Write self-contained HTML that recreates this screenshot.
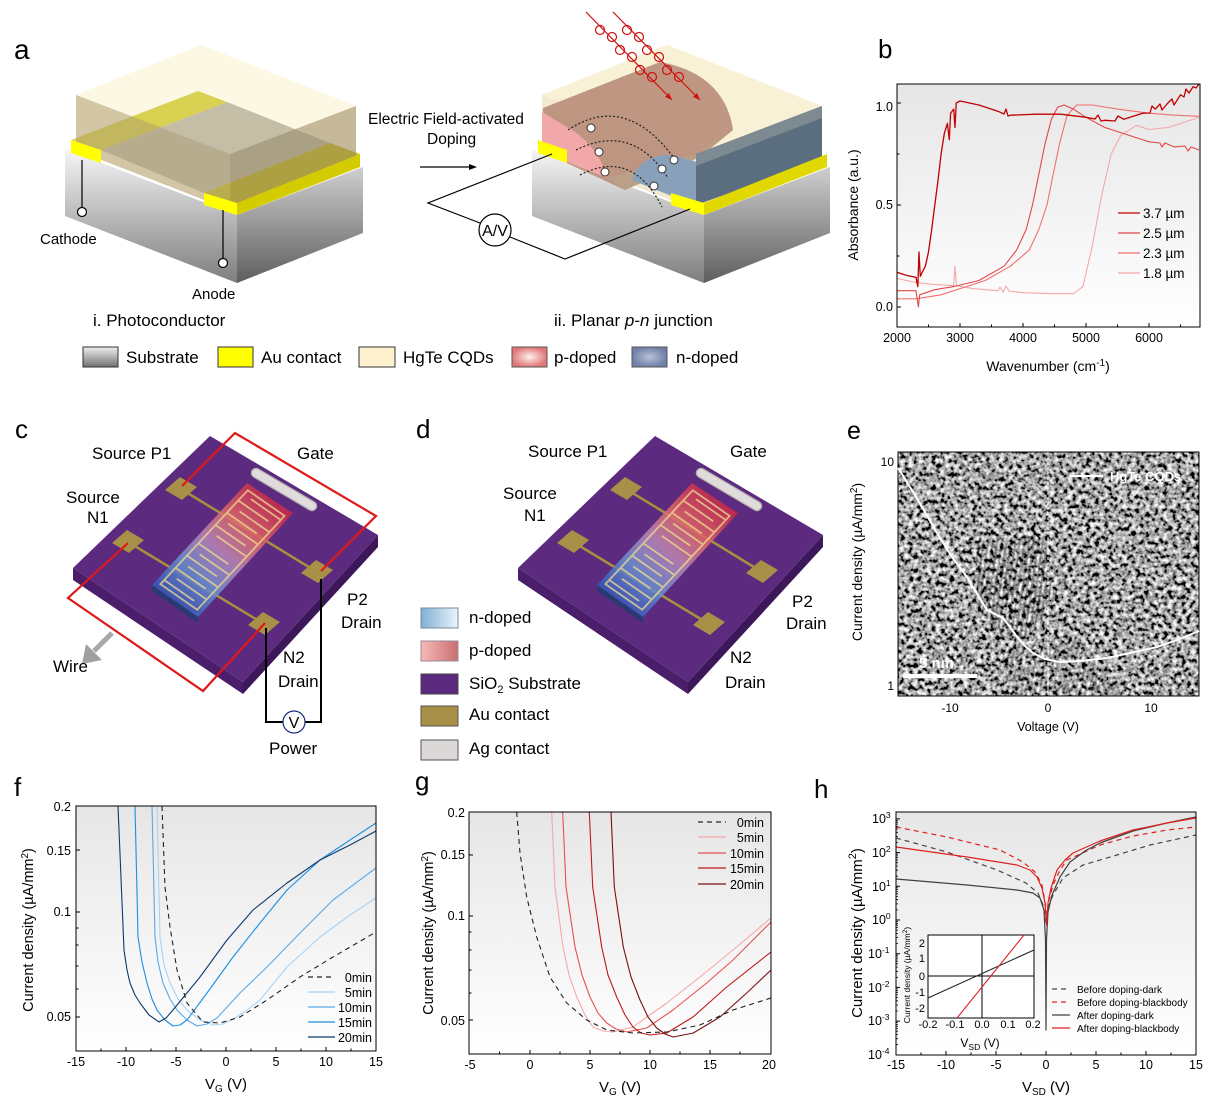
<!DOCTYPE html>
<html><head><meta charset="utf-8"><style>
html,body{margin:0;padding:0;background:#fff}
svg{display:block}
text{font-family:"Liberation Sans",Arial,sans-serif;fill:#000}
</style></head><body>
<svg width="1226" height="1117" viewBox="0 0 1226 1117" xmlns="http://www.w3.org/2000/svg">
<defs>
<linearGradient id="bgp" x1="0" y1="0" x2="0" y2="1"><stop offset="0" stop-color="#e6e6e6"/><stop offset="1" stop-color="#ffffff"/></linearGradient>
<linearGradient id="subL" x1="0" y1="0" x2="0" y2="1"><stop offset="0" stop-color="#f6f6f6"/><stop offset="1" stop-color="#7e7e7e"/></linearGradient>
<linearGradient id="subR" x1="0" y1="0" x2="0" y2="1"><stop offset="0" stop-color="#cfcfcf"/><stop offset="1" stop-color="#5e5e5e"/></linearGradient>
<linearGradient id="subLeg" x1="0" y1="0" x2="0" y2="1"><stop offset="0" stop-color="#f0f0f0"/><stop offset="1" stop-color="#707070"/></linearGradient>
<radialGradient id="pLeg"><stop offset="0" stop-color="#fff0f0"/><stop offset="1" stop-color="#e07878"/></radialGradient>
<radialGradient id="nLeg"><stop offset="0" stop-color="#b8c4d8"/><stop offset="1" stop-color="#7080a8"/></radialGradient>
<linearGradient id="nd" x1="0" y1="0" x2="1" y2="0"><stop offset="0" stop-color="#80b0d4"/><stop offset="1" stop-color="#eaf4fa"/></linearGradient>
<linearGradient id="pd" x1="0" y1="0" x2="1" y2="0"><stop offset="0" stop-color="#f8b8b8"/><stop offset="1" stop-color="#c87070"/></linearGradient>
<linearGradient id="chipG" gradientUnits="userSpaceOnUse" x1="272" y1="495" x2="172" y2="602"><stop offset="0" stop-color="#c82848"/><stop offset="0.3" stop-color="#e06a6a"/><stop offset="0.52" stop-color="#b888b8"/><stop offset="0.75" stop-color="#6a90d0"/><stop offset="1" stop-color="#3458b8"/></linearGradient>
<filter id="tem" x="0" y="0" width="100%" height="100%">
<feTurbulence type="fractalNoise" baseFrequency="0.22" numOctaves="2" seed="7"/>
<feColorMatrix type="matrix" values="2.3 0 0 0 -0.78  2.3 0 0 0 -0.78  2.3 0 0 0 -0.78  0 0 0 0 1"/>
</filter>
<pattern id="fringe" width="4.5" height="10" patternUnits="userSpaceOnUse" patternTransform="rotate(8)">
<rect width="2" height="10" fill="#000" opacity="0.45"/>
</pattern>
<g id="dev">
<polygon points="73,568 243,682 243,694 73,580" fill="#4a1e6a"/>
<polygon points="243,682 378,535 378,547 243,694" fill="#3c175a"/>
<polygon points="210,436 378,535 243,682 73,568" fill="#5c2a7e"/>
<line x1="181" y1="489" x2="317" y2="572" stroke="#a89040" stroke-width="2.5"/>
<line x1="128" y1="542" x2="264" y2="624" stroke="#a89040" stroke-width="2.5"/>
<line x1="256" y1="473" x2="312" y2="506" stroke="#b4acac" stroke-width="10.5" stroke-linecap="round"/>
<line x1="256" y1="473" x2="312" y2="506" stroke="#e0dcdc" stroke-width="8" stroke-linecap="round"/>
<polygon points="152,585 198,617 198,623 152,591" fill="#2a3a70"/>
<polygon points="152,585 247,483 293,513 198,617" fill="url(#chipG)" opacity="0.85"/>
<g transform="matrix(95,-102,46,32,152,585)" fill="none" stroke="#f0dc90" stroke-opacity="0.75" stroke-width="1.8">
<path vector-effect="non-scaling-stroke" d="M0.04,0.1 H0.96 V0.9 H0.04 Z M0.08,0.1 V0.75 M0.14,0.25 V0.9 M0.2,0.1 V0.75 M0.26,0.25 V0.9 M0.32,0.1 V0.75 M0.38,0.25 V0.9 M0.44,0.1 V0.75 M0.56,0.25 V0.9 M0.62,0.1 V0.75 M0.68,0.25 V0.9 M0.74,0.1 V0.75 M0.8,0.25 V0.9 M0.86,0.1 V0.75 M0.92,0.25 V0.9"/>
</g>
<polygon points="165,490 180,477 197,487 182,500" fill="#a89048"/>
<polygon points="112,543 127,530 144,540 129,553" fill="#a89048"/>
<polygon points="301,573 316,560 333,570 318,583" fill="#a89048"/>
<polygon points="248,625 263,612 280,622 265,635" fill="#a89048"/>
</g>
</defs>

<!-- ============ PANEL A ============ -->
<text x="14" y="59" font-size="28">a</text>
<polygon points="65,149 237,215 237,283 65,216" fill="url(#subL)"/>
<polygon points="237,215 363,167 363,233 237,283" fill="url(#subR)"/>
<polygon points="76,95 201,45 356,106 356,160 230,210 76,150" fill="#f4ecd0"/>
<polygon points="76,95 201,45 356,106 230,154" fill="#fcf8e4"/>
<polygon points="101,150 227,102 330,143 204,193" fill="#c4bea6"/>
<polygon points="71,140 198,91 227,102 101,150" fill="#d4cc40" opacity="0.9"/>
<polygon points="204,193 330,143 360,154 237,203" fill="#c8be30"/>
<polygon points="76,95 230,154 230,210 76,150" fill="#a89870" opacity="0.45"/>
<polygon points="230,154 356,106 356,160 230,210" fill="#8c7c58" opacity="0.45"/>
<polygon points="71,140 101,150 101,163 71,153" fill="#ffff00"/>
<polygon points="204,193 237,203 237,215 204,205" fill="#ffff00"/>
<polygon points="237,203 360,154 360,167 237,215" fill="#d4cc00"/>
<line x1="82" y1="160" x2="82" y2="208" stroke="#000" stroke-width="1.2"/>
<circle cx="82" cy="212" r="4.5" fill="#fff" stroke="#000" stroke-width="1.2"/>
<line x1="223" y1="210" x2="223" y2="258" stroke="#000" stroke-width="1.2"/>
<circle cx="223" cy="263" r="4.5" fill="#fff" stroke="#000" stroke-width="1.2"/>
<text x="40" y="244" font-size="15">Cathode</text>
<text x="192" y="299" font-size="15">Anode</text>
<text x="93" y="326" font-size="17">i. Photoconductor</text>
<text x="368" y="124" font-size="15.5">Electric Field-activated</text>
<text x="427" y="144" font-size="15.5">Doping</text>
<line x1="420" y1="167" x2="472" y2="167" stroke="#000" stroke-width="1.2"/>
<polygon points="477,167 469,164 469,170" fill="#000"/>
<polygon points="532,149 704,215 704,283 532,216" fill="url(#subL)"/>
<polygon points="704,215 830,167 830,233 704,283" fill="url(#subR)"/>
<polygon points="542,95 667,45 822,106 822,160 696,210 542,150" fill="#f2ead0"/>
<polygon points="542,95 667,45 822,106 696,154" fill="#f8f1d6"/>
<path d="M543,108 L660,62 C705,70 728,95 733,130 L700,157 L625,190 L543,152 Z" fill="#b88c78" opacity="0.9"/>
<path d="M542,112 L567,127 C590,140 603,160 607,178 L542,152 Z" fill="#f2a8a8"/>
<path d="M607,178 L625,190 L700,157 L733,130 L697,154 Z" fill="#b8a888" opacity="0.6"/>
<path d="M632,180 C636,162 656,152 676,156 L697,162 L697,205 L664,193 Z" fill="#88a0ba"/>
<polygon points="696,154 822,106 822,160 696,205" fill="#5a6e80"/>
<polygon points="696,154 822,106 822,118 696,166" fill="#7d8a92"/>
<polygon points="538,140 567,150 567,163 538,153" fill="#ffff00"/>
<polygon points="671,193 704,203 704,215 671,205" fill="#ffff00"/>
<polygon points="704,203 827,154 827,167 704,215" fill="#e0d800"/>
<g fill="none" stroke="#222" stroke-width="1.2" stroke-dasharray="2,2">
<path d="M568,130 Q625,92 674,158"/>
<path d="M576,150 Q632,122 668,178"/>
<path d="M580,175 Q632,148 662,207"/>
</g>
<g fill="#fff" stroke="#333" stroke-width="1">
<circle cx="591" cy="128" r="4"/><circle cx="599" cy="152" r="4"/><circle cx="605" cy="172" r="4"/>
<circle cx="674" cy="160" r="4"/><circle cx="662" cy="169" r="4"/><circle cx="654" cy="186" r="4"/>
</g>
<g stroke="#d01010" stroke-width="1.2" fill="none">
<line x1="586" y1="12" x2="672" y2="100"/>
<line x1="613" y1="12" x2="700" y2="100"/>
<circle cx="600" cy="30" r="4.5"/><circle cx="612" cy="37" r="4.5"/><circle cx="620" cy="50" r="4.5"/><circle cx="632" cy="57" r="4.5"/><circle cx="640" cy="70" r="4.5"/><circle cx="652" cy="77" r="4.5"/>
<circle cx="627" cy="30" r="4.5"/><circle cx="639" cy="37" r="4.5"/><circle cx="647" cy="50" r="4.5"/><circle cx="659" cy="57" r="4.5"/><circle cx="667" cy="70" r="4.5"/><circle cx="679" cy="77" r="4.5"/>
</g>
<polygon points="672,100 665,97 669,93" fill="#d01010"/>
<polygon points="700,100 693,97 697,93" fill="#d01010"/>
<polyline points="552,154 428,203 480,223" fill="none" stroke="#000" stroke-width="1.2"/>
<polyline points="510,237 565,259 690,209" fill="none" stroke="#000" stroke-width="1.2"/>
<circle cx="495" cy="230" r="16" fill="none" stroke="#000" stroke-width="1.2"/>
<text x="495" y="236" font-size="16" text-anchor="middle">A/V</text>
<text x="554" y="326" font-size="17">ii. Planar <tspan font-style="italic">p</tspan>-<tspan font-style="italic">n</tspan> junction</text>
<rect x="83" y="347" width="35" height="20" fill="url(#subLeg)" stroke="#333" stroke-width="1"/>
<text x="126" y="363" font-size="17">Substrate</text>
<rect x="218" y="347" width="35" height="20" fill="#ffff00" stroke="#333" stroke-width="1"/>
<text x="261" y="363" font-size="17">Au contact</text>
<rect x="359" y="347" width="36" height="20" fill="#fdf0cc" stroke="#333" stroke-width="1"/>
<text x="403" y="363" font-size="17">HgTe  CQDs</text>
<rect x="512" y="347" width="35" height="20" fill="url(#pLeg)" stroke="#555" stroke-width="1"/>
<text x="554" y="363" font-size="17">p-doped</text>
<rect x="632" y="347" width="35" height="20" fill="url(#nLeg)" stroke="#555" stroke-width="1"/>
<text x="676" y="363" font-size="17">n-doped</text>

<!-- ============ PANEL B ============ -->
<text x="878" y="58" font-size="26">b</text>
<rect x="897" y="84" width="303" height="243" fill="url(#bgp)"/>
<g fill="none" stroke-width="1.1" stroke-linejoin="round">
<polyline stroke="#f5a8a8" points="897,278.4 916,282.5 934.8,284.6 953.7,285.6 955,266 956.5,285.6 972.6,288.6 997.8,290.7 1000,287 1003,292 1006,286 1009,291 1023,292.7 1054.5,293.7 1073.4,293.7 1082.9,286.6 1092.3,245.8 1101.8,194.8 1111.2,154 1120.7,135.6 1136.4,125.4 1149,129.5 1167.9,127.5 1186.8,121.4 1199,117.3"/>
<polyline stroke="#f07070" points="897,298.8 916,298.8 941.1,294.8 960,288.6 985.2,280.5 1010.4,266.2 1029.3,249.9 1038.8,229.5 1047,205 1053.2,174.4 1059.5,143.8 1067.1,115.2 1076.6,105 1092.3,105 1117.5,109.1 1149,113.2 1174.2,115.2 1199,116.3"/>
<polyline stroke="#e04848" points="897,290.7 916,290.7 918.4,307 919.7,294.8 934.8,289.7 953.7,286.6 978.9,280.5 1004.1,266.2 1016.7,249.9 1026.2,229.5 1032.5,205 1038.8,174.4 1045,143.8 1051.4,119.3 1057.7,107.1 1064,105 1073.4,109.1 1086,117.3 1104.9,127.5 1123.8,133.6 1149,141.8 1160,143 1162,147 1165,143 1174.2,146.9 1185,146 1188,151 1191,147 1199,150"/>
<polyline stroke="#c00000" stroke-width="1.3" points="897,272.3 906.5,275.4 916,277.4 917.8,286.6 919,252 920.3,276.4 922.2,272.3 925.4,266.2 928.5,251.9 931.7,229.5 934.8,205 938,180.5 941.1,154 944.3,133.6 947.4,123.4 949.3,139.7 950.6,113.2 953.7,109.1 955,127.5 956.2,103 960,101 978.9,105 997.8,111.2 1004,114 1006,109 1008,116 1010.4,115.2 1035.6,114.2 1060.8,114.2 1086,117.3 1095,119 1098,115 1101,121 1104.9,120.3 1115,121 1118,116 1123.8,119.3 1142.7,113.2 1150,113 1152,106 1155.3,109.1 1160,104 1162,110 1167.9,103 1172,99 1174,105 1180.5,94.8 1184,97 1186,89 1189,93 1193.1,86.7 1196,88 1199,84"/>
</g>
<rect x="897" y="84" width="303" height="243" fill="none" stroke="#000" stroke-width="1"/>
<path d="M960,327v-4M1023,327v-4M1086,327v-4M1149,327v-4M928.5,327v-2.5M991.5,327v-2.5M1054.5,327v-2.5M1117.5,327v-2.5M1180.5,327v-2.5M897,307h4M897,205h4M897,103h4M897,256h2.5M897,154h2.5" stroke="#000" stroke-width="1"/>
<g font-size="12.5" text-anchor="end"><text x="893" y="111">1.0</text><text x="893" y="209">0.5</text><text x="893" y="311">0.0</text></g>
<g font-size="12.5" text-anchor="middle"><text x="897" y="342">2000</text><text x="960" y="342">3000</text><text x="1023" y="342">4000</text><text x="1086" y="342">5000</text><text x="1149" y="342">6000</text></g>
<text x="1048" y="371" font-size="14" text-anchor="middle">Wavenumber (cm<tspan dy="-5" font-size="10">-1</tspan><tspan dy="5">)</tspan></text>
<text transform="translate(858,205) rotate(-90)" font-size="14" text-anchor="middle">Absorbance (a.u.)</text>
<g stroke-width="1.3"><line x1="1118" y1="213" x2="1140" y2="213" stroke="#c00000"/><line x1="1118" y1="233" x2="1140" y2="233" stroke="#e04848"/><line x1="1118" y1="253" x2="1140" y2="253" stroke="#f07070"/><line x1="1118" y1="273" x2="1140" y2="273" stroke="#f5a8a8"/></g>
<g font-size="13.5"><text x="1143" y="218">3.7 µm</text><text x="1143" y="238">2.5 µm</text><text x="1143" y="258">2.3 µm</text><text x="1143" y="278">1.8 µm</text></g>

<!-- ============ PANEL C ============ -->
<text x="15" y="438" font-size="26">c</text>
<use href="#dev"/>
<polyline points="182,486 235,433 376,516 321,571" fill="none" stroke="#e01818" stroke-width="2.2"/>
<polyline points="128,543 68,598 203,691 265,623" fill="none" stroke="#e01818" stroke-width="2.2"/>
<polyline points="321,579 321,722 305,722" fill="none" stroke="#000" stroke-width="2"/>
<polyline points="283,722 266,722 266,628" fill="none" stroke="#000" stroke-width="2"/>
<circle cx="294" cy="722" r="11" fill="#fff" stroke="#1a2e80" stroke-width="1.2"/>
<text x="294" y="728" font-size="16" text-anchor="middle">V</text>
<line x1="112" y1="633" x2="94" y2="651" stroke="#a8a8a8" stroke-width="5"/>
<polygon points="82,664 86,644 102,660" fill="#a0a0a0"/>
<g font-size="17">
<text x="92" y="459">Source P1</text><text x="297" y="459">Gate</text>
<text x="66" y="503">Source</text><text x="87" y="523">N1</text>
<text x="347" y="605">P2</text><text x="341" y="628">Drain</text>
<text x="283" y="663">N2</text><text x="278" y="687">Drain</text>
<text x="53" y="672">Wire</text><text x="269" y="754">Power</text>
</g>

<!-- ============ PANEL D ============ -->
<text x="416" y="438" font-size="26">d</text>
<use href="#dev" transform="translate(445,0)"/>
<g font-size="17">
<text x="528" y="457">Source P1</text><text x="730" y="457">Gate</text>
<text x="503" y="499">Source</text><text x="524" y="521">N1</text>
<text x="792" y="607">P2</text><text x="786" y="629">Drain</text>
<text x="730" y="663">N2</text><text x="725" y="688">Drain</text>
</g>
<rect x="421" y="608" width="37" height="20" fill="url(#nd)" stroke="#7a8aa0" stroke-width="1"/>
<rect x="421" y="641" width="37" height="20" fill="url(#pd)" stroke="#9a8a9a" stroke-width="1"/>
<rect x="421" y="674" width="37" height="20" fill="#5c2a7e" stroke="#444" stroke-width="1"/>
<rect x="421" y="706" width="37" height="20" fill="#a89048" stroke="#555" stroke-width="1"/>
<rect x="421" y="740" width="37" height="20" fill="#dcd8d8" stroke="#555" stroke-width="1"/>
<g font-size="17">
<text x="469" y="623">n-doped</text><text x="469" y="656">p-doped</text>
<text x="469" y="689">SiO<tspan dy="4" font-size="11">2</tspan><tspan dy="-4"> Substrate</tspan></text>
<text x="469" y="720">Au contact</text><text x="469" y="754">Ag contact</text>
</g>

<!-- ============ PANEL E ============ -->
<text x="847" y="439" font-size="25">e</text>
<rect x="898" y="452" width="301" height="244" fill="#707070"/>
<rect x="898" y="452" width="301" height="244" filter="url(#tem)"/>
<polygon points="975,540 1045,535 1055,600 1020,645 978,612" fill="url(#fringe)" opacity="0.6"/>
<polygon points="1000,650 1080,640 1120,690 1010,696" fill="url(#fringe)" opacity="0.35"/>
<rect x="898" y="452" width="301" height="244" fill="none" stroke="#000" stroke-width="1"/>
<line x1="1048" y1="452" x2="1048" y2="696" stroke="#fff" stroke-width="1" stroke-dasharray="3,2"/>
<polyline points="898,468 915,495 937,533 952,557 967,577 979,597 987,610 995,614 1003,618 1010,627 1017,637 1025,646 1033,653 1045,659 1060,662 1080,661 1107,658 1130,653 1157,647 1180,639 1199,631" fill="none" stroke="#fff" stroke-width="2"/>
<line x1="1070" y1="476" x2="1103" y2="476" stroke="#fff" stroke-width="2"/>
<text x="1110" y="481" font-size="13" font-weight="bold" style="fill:#fff">HgTe CQDs</text>
<line x1="903" y1="676" x2="977" y2="676" stroke="#fff" stroke-width="4"/>
<text x="919" y="668" font-size="15" font-weight="bold" style="fill:#fff">5 nm</text>
<g font-size="12" text-anchor="end"><text x="894" y="466">10</text><text x="894" y="690">1</text></g>
<g font-size="12" text-anchor="middle"><text x="950" y="712">-10</text><text x="1048" y="712">0</text><text x="1151" y="712">10</text></g>
<text x="1048" y="731" font-size="12.5" text-anchor="middle">Voltage (V)</text>
<text transform="translate(862,562) rotate(-90)" font-size="14" text-anchor="middle">Current density (µA/mm<tspan dy="-5" font-size="10">2</tspan><tspan dy="5">)</tspan></text>

<!-- ============ PANEL F ============ -->
<text x="14" y="796" font-size="26">f</text>
<rect x="76" y="806" width="300" height="245" fill="url(#bgp)"/>
<g fill="none" stroke-width="1.1" stroke-linejoin="round">
<polyline stroke="#a8d4f5" points="157,806 160,937 164,965 170,983 178,999 187,1010 200,1020 213,1025 223,1024 233,1019 246,1011 260,1000 287,967 320,937 350,915 376,898"/>
<polyline stroke="#5aa8e8" points="152,806 155,937 158,962 163,983 170,999 177,1010 187,1020 197,1026 207,1024 217,1018 240,993 267,967 300,933 333,900 376,868"/>
<polyline stroke="#1e8fe0" points="135,806 138,937 142,962 147,983 152,999 157,1010 165,1020 173,1026 180,1025 187,1020 207,993 233,957 260,923 287,890 320,860 350,840 376,823"/>
<polyline stroke="#0d3a6e" points="118,806 124,950 127,970 130,983 135,995 140,1003 149,1015 159,1022 166,1018 173,1010 200,977 227,940 253,910 287,883 320,860 350,845 376,831"/>
<polyline stroke="#222" stroke-dasharray="5,4" points="162,806 165,887 170,927 177,970 187,1003 203,1022 220,1023 240,1017 267,1000 300,977 333,957 376,932"/>
</g>
<rect x="76" y="806" width="300" height="245" fill="none" stroke="#000" stroke-width="1"/>
<path d="M126,1051v-4M176,1051v-4M226,1051v-4M276,1051v-4M326,1051v-4M101,1051v-2.5M151,1051v-2.5M201,1051v-2.5M251,1051v-2.5M301,1051v-2.5M351,1051v-2.5M76,850h4M76,912h4M76,1017h4M76,989h2.5M76,966h2.5M76,945h2.5M76,928h2.5" stroke="#000" stroke-width="1"/>
<g font-size="12.5" text-anchor="end"><text x="71" y="811">0.2</text><text x="71" y="855">0.15</text><text x="71" y="916">0.1</text><text x="71" y="1021">0.05</text></g>
<g font-size="12.5" text-anchor="middle"><text x="76" y="1066">-15</text><text x="126" y="1066">-10</text><text x="176" y="1066">-5</text><text x="226" y="1066">0</text><text x="276" y="1066">5</text><text x="326" y="1066">10</text><text x="376" y="1066">15</text></g>
<text x="226" y="1089" font-size="15" text-anchor="middle">V<tspan dy="3" font-size="10">G</tspan><tspan dy="-3"> (V)</tspan></text>
<text transform="translate(33,930) rotate(-90)" font-size="14.5" text-anchor="middle">Current density (µA/mm<tspan dy="-5" font-size="10">2</tspan><tspan dy="5">)</tspan></text>
<g stroke-width="1.3"><line x1="308" y1="977" x2="335" y2="977" stroke="#222" stroke-dasharray="5,4"/><line x1="308" y1="992" x2="335" y2="992" stroke="#a8d4f5"/><line x1="308" y1="1007" x2="335" y2="1007" stroke="#5aa8e8"/><line x1="308" y1="1022" x2="335" y2="1022" stroke="#1e8fe0"/><line x1="308" y1="1037" x2="335" y2="1037" stroke="#0d3a6e"/></g>
<g font-size="12.5" text-anchor="end"><text x="372" y="982">0min</text><text x="372" y="997">5min</text><text x="372" y="1012">10min</text><text x="372" y="1027">15min</text><text x="372" y="1042">20min</text></g>

<!-- ============ PANEL G ============ -->
<text x="415" y="790" font-size="26">g</text>
<rect x="469" y="812" width="302" height="242" fill="url(#bgp)"/>
<g fill="none" stroke-width="1.1" stroke-linejoin="round">
<polyline stroke="#f4a8a8" points="551.7,812 555,887 563,947 569,975 576.7,997 585,1015 593,1027 603,1031 613,1032 633,1027 666.7,1003 700,977 733,950 771,918"/>
<polyline stroke="#e85050" points="562.7,812 566,887 575,947 582,975 590,997 598,1013 606.7,1023 616,1029 626.7,1032 646.7,1028 673,1010 706.7,983 733,960 771,922"/>
<polyline stroke="#c01818" points="589.3,812 592.7,887 601.7,947 608,975 616.7,997 625,1015 633,1027 641,1033 650,1035 666.7,1033 693,1017 726.7,987 771,952"/>
<polyline stroke="#7a1010" points="611,812 614.3,887 623.3,947 631,977 640,1000 648,1017 656.7,1028 665,1034 673.3,1037 693.3,1033 720,1017 746.7,993 771,970"/>
<polyline stroke="#222" stroke-dasharray="5,4" points="516.7,812 520,853 526.7,897 536.7,937 550,977 566.7,1003 586.7,1020 606.7,1030 633,1033 666.7,1032 700,1025 733,1010 771,998"/>
</g>
<rect x="469" y="812" width="302" height="242" fill="none" stroke="#000" stroke-width="1"/>
<path d="M530,1054v-4M590,1054v-4M650,1054v-4M710,1054v-4M499.5,1054v-2.5M560,1054v-2.5M620,1054v-2.5M680,1054v-2.5M740,1054v-2.5M469,855h4M469,916h4M469,1020h4M469,993h2.5M469,970h2.5M469,950h2.5M469,932h2.5" stroke="#000" stroke-width="1"/>
<g font-size="12.5" text-anchor="end"><text x="465" y="817">0.2</text><text x="465" y="859">0.15</text><text x="465" y="920">0.1</text><text x="465" y="1025">0.05</text></g>
<g font-size="12.5" text-anchor="middle"><text x="470" y="1069">-5</text><text x="530" y="1069">0</text><text x="590" y="1069">5</text><text x="650" y="1069">10</text><text x="710" y="1069">15</text><text x="769" y="1069">20</text></g>
<text x="620" y="1092" font-size="15" text-anchor="middle">V<tspan dy="3" font-size="10">G</tspan><tspan dy="-3"> (V)</tspan></text>
<text transform="translate(433,933) rotate(-90)" font-size="14.5" text-anchor="middle">Current density (µA/mm<tspan dy="-5" font-size="10">2</tspan><tspan dy="5">)</tspan></text>
<g stroke-width="1.3"><line x1="698" y1="822" x2="726" y2="822" stroke="#222" stroke-dasharray="5,4"/><line x1="698" y1="837" x2="726" y2="837" stroke="#f4a8a8"/><line x1="698" y1="853" x2="726" y2="853" stroke="#e85050"/><line x1="698" y1="868" x2="726" y2="868" stroke="#c01818"/><line x1="698" y1="884" x2="726" y2="884" stroke="#7a1010"/></g>
<g font-size="12.5" text-anchor="end"><text x="764" y="827">0min</text><text x="764" y="842">5min</text><text x="764" y="858">10min</text><text x="764" y="873">15min</text><text x="764" y="889">20min</text></g>

<!-- ============ PANEL H ============ -->
<text x="814" y="798" font-size="26">h</text>
<rect x="896" y="812" width="300" height="243" fill="url(#bgp)"/>
<g fill="none" stroke-width="1.2" stroke-linejoin="round">
<polyline stroke="#444" stroke-dasharray="5,4" points="896,838 947,852 997,870 1026,883 1038,893 1043,905 1046,922 1049,905 1053,895 1063,878 1083,865 1117,855 1150,845 1196,835"/>
<polyline stroke="#e02020" stroke-dasharray="5,4" points="896,827 947,837 1000,850 1023,862 1035,872 1042,885 1045.5,905 1047,915 1049,900 1053,885 1060,870 1067,860 1100,845 1133,836 1167,830 1196,827"/>
<polyline stroke="#404040" points="896,879 967,885 1017,890 1033,893 1040,898 1044,910 1045.5,940 1046,1030 1046.5,940 1048,912 1052,895 1060,877 1070,862 1085,851 1100,843 1133,831 1167,823 1196,817"/>
<polyline stroke="#e02020" points="896,847 967,857 1017,865 1030,870 1037,877 1042,888 1045,903 1046.5,925 1048,903 1051,888 1057,870 1065,860 1073,853 1100,841 1133,830 1167,823 1196,818"/>
</g>
<rect x="896" y="812" width="300" height="243" fill="none" stroke="#000" stroke-width="1"/>
<path d="M946,1055v-4M996,1055v-4M1046,1055v-4M1096,1055v-4M1146,1055v-4M921,1055v-2.5M971,1055v-2.5M1021,1055v-2.5M1071,1055v-2.5M1121,1055v-2.5M1171,1055v-2.5M896,818.9h4M896,852.6h4M896,886.3h4M896,920h4M896,953.7h4M896,987.4h4M896,1021.1h4" stroke="#000" stroke-width="1"/>
<path d="M896,1044.7h2M896,1038.7h2M896,1034.5h2M896,1031.2h2M896,1028.6h2M896,1026.3h2M896,1024.4h2M896,1022.6h2M896,1011h2M896,1005h2M896,1000.8h2M896,997.5h2M896,994.9h2M896,992.6h2M896,990.7h2M896,988.9h2M896,977.3h2M896,971.3h2M896,967.1h2M896,963.8h2M896,961.2h2M896,958.9h2M896,957h2M896,955.2h2M896,943.6h2M896,937.6h2M896,933.4h2M896,930.1h2M896,927.5h2M896,925.2h2M896,923.3h2M896,921.5h2M896,909.9h2M896,903.9h2M896,899.7h2M896,896.4h2M896,893.8h2M896,891.5h2M896,889.6h2M896,887.8h2M896,876.2h2M896,870.2h2M896,866h2M896,862.7h2M896,860.1h2M896,857.8h2M896,855.9h2M896,854.1h2M896,842.5h2M896,836.5h2M896,832.3h2M896,829h2M896,826.4h2M896,824.1h2M896,822.2h2M896,820.4h2" stroke="#000" stroke-width="0.8"/>
<g font-size="12.5">
<text x="872" y="823">10<tspan dy="-5" font-size="8.5">3</tspan></text>
<text x="872" y="857">10<tspan dy="-5" font-size="8.5">2</tspan></text>
<text x="872" y="891">10<tspan dy="-5" font-size="8.5">1</tspan></text>
<text x="872" y="924">10<tspan dy="-5" font-size="8.5">0</tspan></text>
<text x="868" y="958">10<tspan dy="-5" font-size="8.5">-1</tspan></text>
<text x="868" y="992">10<tspan dy="-5" font-size="8.5">-2</tspan></text>
<text x="868" y="1025">10<tspan dy="-5" font-size="8.5">-3</tspan></text>
<text x="868" y="1059">10<tspan dy="-5" font-size="8.5">-4</tspan></text>
</g>
<g font-size="12.5" text-anchor="middle"><text x="896" y="1069">-15</text><text x="946" y="1069">-10</text><text x="996" y="1069">-5</text><text x="1046" y="1069">0</text><text x="1096" y="1069">5</text><text x="1146" y="1069">10</text><text x="1196" y="1069">15</text></g>
<text x="1046" y="1092" font-size="15" text-anchor="middle">V<tspan dy="3" font-size="10">SD</tspan><tspan dy="-3"> (V)</tspan></text>
<text transform="translate(862,933) rotate(-90)" font-size="15" text-anchor="middle">Current density (µA/mm<tspan dy="-6" font-size="11">2</tspan><tspan dy="6">)</tspan></text>
<rect x="928" y="935" width="106" height="83" fill="#fff" stroke="#000" stroke-width="1"/>
<line x1="982" y1="935" x2="982" y2="1018" stroke="#000" stroke-width="1"/>
<line x1="928" y1="976" x2="1034" y2="976" stroke="#000" stroke-width="1"/>
<line x1="928" y1="998" x2="1034" y2="950" stroke="#222" stroke-width="1.1"/>
<line x1="957" y1="1018" x2="1024" y2="935" stroke="#e02020" stroke-width="1.1"/>
<g font-size="11" text-anchor="middle"><text x="928" y="1028">-0.2</text><text x="955" y="1028">-0.1</text><text x="982" y="1028">0.0</text><text x="1008" y="1028">0.1</text><text x="1033" y="1028">0.2</text></g>
<g font-size="11" text-anchor="end"><text x="925" y="947">2</text><text x="925" y="962">1</text><text x="925" y="980">0</text><text x="925" y="996">-1</text><text x="925" y="1012">-2</text></g>
<text x="980" y="1047" font-size="12" text-anchor="middle">V<tspan dy="3" font-size="8.5">SD</tspan><tspan dy="-3"> (V)</tspan></text>
<text transform="translate(910,975) rotate(-90)" font-size="8.5" text-anchor="middle">Current density (µA/mm<tspan dy="-3" font-size="6.5">2</tspan><tspan dy="3">)</tspan></text>
<g stroke-width="1.2"><line x1="1052" y1="989" x2="1070" y2="989" stroke="#444" stroke-dasharray="5,4"/><line x1="1052" y1="1002" x2="1070" y2="1002" stroke="#e02020" stroke-dasharray="5,4"/><line x1="1052" y1="1015" x2="1070" y2="1015" stroke="#404040"/><line x1="1052" y1="1028" x2="1070" y2="1028" stroke="#e02020"/></g>
<g font-size="10"><text x="1077" y="993">Before doping-dark</text><text x="1077" y="1006">Before doping-blackbody</text><text x="1077" y="1019">After doping-dark</text><text x="1077" y="1032">After doping-blackbody</text></g>
</svg>
</body></html>
